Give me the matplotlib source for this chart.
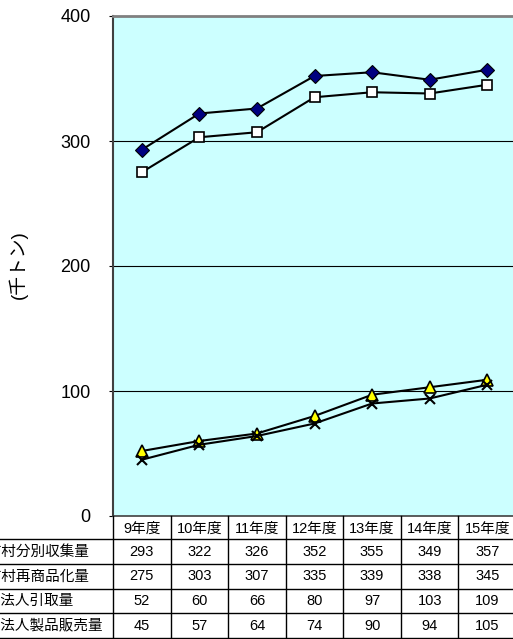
import matplotlib
matplotlib.use("Agg")
import matplotlib.pyplot as plt

plt.rcParams['font.family'] = ['Liberation Sans', 'Noto Sans CJK JP']

YEARS = ['9年度', '10年度', '11年度', '12年度', '13年度', '14年度', '15年度']
ROW_NAMES = ['市町村分別収集量', '市町村再商品化量', '指定法人引取量', '指定法人製品販売量']
COLLECTED = [293, 322, 326, 352, 355, 349, 357]
RECYCLED = [275, 303, 307, 335, 339, 338, 345]
TAKEN = [52, 60, 66, 80, 97, 103, 109]
SOLD = [45, 57, 64, 74, 90, 94, 105]
SERIES = [COLLECTED, RECYCLED, TAKEN, SOLD]

W, H = 513, 639
AX_L, AX_R, AX_T, AX_B = 113, 516, 16, 516
ROW_EDGES = [516, 539, 564, 589, 613, 638]

fig = plt.figure(figsize=(W / 100, H / 100), dpi=100)
ax = fig.add_axes([AX_L / W, 1 - AX_B / H, (AX_R - AX_L) / W, (AX_B - AX_T) / H])
ax.set_facecolor('#CCFFFF')

x = list(range(len(YEARS)))
styles = [
    dict(marker='D', markersize=7, markerfacecolor='#000080', markeredgecolor='black', markeredgewidth=0.8),
    dict(marker='s', markersize=7.5, markerfacecolor='white', markeredgecolor='black', markeredgewidth=1.2),
    dict(marker='^', markersize=8, markerfacecolor='#FFFF00', markeredgecolor='black', markeredgewidth=1.2),
    dict(marker='x', markersize=7.5, markeredgecolor='black', markeredgewidth=1.5),
]
for vals, st in zip(SERIES, styles):
    ax.plot(x, vals, color='black', linewidth=1.5, zorder=3, **st)

ax.set_xlim(-0.5, len(YEARS) - 0.5)
ax.set_ylim(0, 400)
ax.set_yticks([0, 100, 200, 300, 400])
for yv in [100, 200, 300]:
    ax.axhline(yv, color='black', linewidth=0.8, zorder=1)
ax.tick_params(axis='y', length=3, pad=13, labelsize=13)
ax.set_xticks([])
ax.spines['top'].set_color('#808080')
ax.spines['top'].set_linewidth(2)
ax.spines['left'].set_color('#404040')
ax.spines['left'].set_linewidth(1.5)
ax.spines['bottom'].set_color('#404040')
ax.spines['bottom'].set_linewidth(1.2)
ax.spines['right'].set_visible(False)

fig.text(18 / W, 1 - 265 / H, '(千トン)', rotation=90, ha='center', va='center',
         fontsize=13.5)

# data table under the plot, in pixel coordinates
tb = fig.add_axes([0, 0, AX_R / W, (H - AX_B) / H])
tb.set_xlim(0, AX_R)
tb.set_ylim(H, AX_B)
tb.axis('off')
col_w = (AX_R - AX_L) / len(YEARS)
col_edges = [AX_L + col_w * i for i in range(len(YEARS) + 1)]

for yv in ROW_EDGES[1:]:
    tb.plot([0, AX_R], [yv, yv], color='black', linewidth=1, clip_on=False)
for xe in col_edges:
    tb.plot([xe, xe], [ROW_EDGES[0], ROW_EDGES[-1]], color='black', linewidth=1, clip_on=False)

for j, yr in enumerate(YEARS):
    cx = (col_edges[j] + col_edges[j + 1]) / 2
    cy = (ROW_EDGES[0] + ROW_EDGES[1]) / 2
    tb.text(cx, cy + 1, yr, ha='center', va='center', fontsize=10.5)
    for i, vals in enumerate(SERIES):
        ry = (ROW_EDGES[i + 1] + ROW_EDGES[i + 2]) / 2
        tb.text(cx, ry, str(vals[j]), ha='center', va='center', fontsize=10.5)

# row names start left of the figure edge
for i, name in enumerate(ROW_NAMES):
    ry = (ROW_EDGES[i + 1] + ROW_EDGES[i + 2]) / 2
    tb.text(-28, ry, name, ha='left', va='center', fontsize=10.5, clip_on=False)

fig.savefig('out.png', dpi=100, facecolor='white')
